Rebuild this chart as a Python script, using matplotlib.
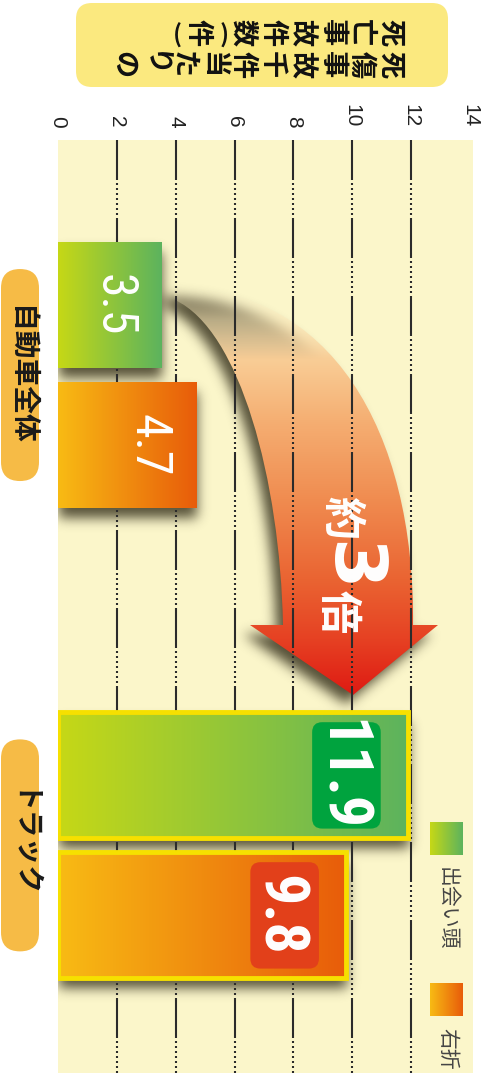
import os
import numpy as np
import matplotlib
matplotlib.use("Agg")
import matplotlib.pyplot as plt
from matplotlib import font_manager
from matplotlib.font_manager import FontProperties
from matplotlib.colors import to_rgba
from matplotlib.patches import FancyBboxPatch, PathPatch
from matplotlib.path import Path
from matplotlib.textpath import TextPath

plt.rcParams["lines.scale_dashes"] = False

# --- data ---
categories = ["自動車全体", "トラック"]
series_names = ["出会い頭", "右折"]
deaigashira = [3.5, 11.9]   # 出会い頭
usetsu = [4.7, 9.8]         # 右折
ticks = [0, 2, 4, 6, 8, 10, 12, 14]
title_cols = ["死傷事故千件当たりの", "死亡事故件数(件)"]

JP = "Noto Sans CJK JP"

# narrow digits for the value labels, if a condensed face is installed
font_files = {os.path.basename(f.fname): f.fname for f in font_manager.fontManager.ttflist}


def find_font(names, keywords):
    for n in names:
        if n in font_files:
            return FontProperties(fname=font_files[n])
    for base, path in sorted(font_files.items()):
        if any(k in base for k in keywords):
            return FontProperties(fname=path)
    return None


num_reg = find_font(["RobotoCondensed-Regular.ttf", "NotoSans-Condensed.ttf",
                     "NotoSans-CondensedMedium.ttf", "DejaVuSansCondensed.ttf",
                     "LiberationSansNarrow-Regular.ttf"],
                    ["Condensed.", "CondensedRegular", "Narrow-Regular"]) \
    or FontProperties(family="Liberation Sans")
num_bold = find_font(["RobotoCondensed-Bold.ttf", "NotoSans-CondensedExtraBold.ttf",
                      "NotoSans-CondensedBold.ttf", "DejaVuSansCondensed-Bold.ttf",
                      "LiberationSansNarrow-Bold.ttf"],
                     ["CondensedBold", "Condensed-Bold", "Narrow-Bold"]) \
    or FontProperties(family="Liberation Sans", weight="bold")


def fit_size(strings, fp, lengths_px, height_px):
    # largest point size whose ink fits the given pixel length/height
    size = 1e9
    for s, L in zip(strings, lengths_px):
        e = TextPath((0, 0), s, size=10, prop=fp).get_extents()
        size = min(size, L * 0.72 / (e.width / 10), height_px * 0.72 / (e.height / 10))
    return size


W, H = 493, 1073
fig = plt.figure(figsize=(W / 100, H / 100), dpi=100)
fig.patch.set_facecolor("white")

# main plot area (value axis runs left -> right, categories top -> bottom)
ax = fig.add_axes([58 / W, 0, 415 / W, 933 / H])
XLIM = (0, 14.1)
YLIM = (4.986, -1.679)
ax.set_xlim(*XLIM)
ax.set_ylim(*YLIM)
ax.set_facecolor("#fbf6ca")
for s in ax.spines.values():
    s.set_visible(False)
ax.xaxis.tick_top()
ax.set_xticks(ticks)
ax.set_xticklabels([str(t) for t in ticks], rotation=-90, fontsize=15,
                   family="Liberation Sans", color="#222222")
ax.tick_params(axis="x", length=0, pad=9)
ax.set_yticks([])

group_pos = np.array([0.0, 3.36])
bar_h = 0.9
green = ("#c6d816", "#5cb35e")
orange = ("#f8bb14", "#e85c0a")


def hgrad(c0, c1, n=256):
    a = np.array(to_rgba(c0))
    b = np.array(to_rgba(c1))
    t = np.linspace(0, 1, n)[:, None]
    return (a + (b - a) * t)[None, :, :]


bars_a = ax.barh(group_pos - 0.5, deaigashira, height=bar_h, color="none", zorder=5)
bars_b = ax.barh(group_pos + 0.5, usetsu, height=bar_h, color="none", zorder=5)

for bars, cols in ((bars_a, green), (bars_b, orange)):
    for r in bars:
        x0, y0, w, h = r.get_x(), r.get_y(), r.get_width(), r.get_height()
        ax.imshow(hgrad(*cols), extent=(x0, x0 + w, y0 + h, y0), aspect="auto",
                  zorder=4, interpolation="bilinear")
# truck bars get a yellow frame
for r in (bars_a[1], bars_b[1]):
    r.set_edgecolor("#f6e000")
    r.set_linewidth(3.5)

# dash-dot grid lines
dash_px = [40, 3] + [2, 3] * 7
dash = tuple(v * 0.72 for v in dash_px)
ax.vlines(ticks[1:-1], YLIM[1], YLIM[0], colors="#2b2b2b", linewidth=1.5,
          linestyles=[(0, dash)], zorder=3)

# curved arrow from the car group to the truck group (outline in figure pixels)
inv = ax.transData.inverted()


def to_data(px, py):
    return inv.transform((px, H - py))


arrow_pts = [(172, 288), (330, 286), (415, 430), (413, 625), (438, 625), (353, 695),
             (250, 625), (283, 625), (280, 480), (240, 330), (175, 300), (172, 288)]
arrow_codes = [Path.MOVETO, Path.CURVE4, Path.CURVE4, Path.CURVE4, Path.LINETO,
               Path.LINETO, Path.LINETO, Path.LINETO, Path.CURVE4, Path.CURVE4,
               Path.CURVE4, Path.CLOSEPOLY]
arrow_path = Path([to_data(*p) for p in arrow_pts], arrow_codes)
arrow = PathPatch(arrow_path, fc="none", ec="none", zorder=2.5)
ax.add_patch(arrow)

stops = [(285, (252, 243, 205, 0.0)), (320, (251, 232, 185, 0.6)),
         (360, (249, 205, 150, 1)), (420, (245, 175, 115, 1)),
         (500, (240, 140, 80, 1)), (580, (234, 100, 50, 1)),
         (640, (230, 65, 35, 1)), (697, (222, 25, 18, 1))]
sy = np.array([s[0] for s in stops], float)
sc = np.array([s[1] for s in stops], float)
sc[:, :3] /= 255
rows = np.linspace(285, 697, 300)
grad = np.stack([np.interp(rows, sy, sc[:, k]) for k in range(4)], axis=1)[:, None, :]
xl, yt = to_data(165, 285)
xr, yb = to_data(445, 697)
im = ax.imshow(grad, extent=(xl, xr, yb, yt), origin="upper", aspect="auto",
               zorder=2.5, interpolation="bilinear")
im.set_clip_path(arrow)

# soft drop shadows for bars and arrow
aw, ah = 415, 933
xs = 58 + np.arange(aw) + 0.5
ys = 933 - (np.arange(ah) + 0.5)
X, Y = np.meshgrid(xs, ys)
pts = np.column_stack([X.ravel(), Y.ravel()])
mask = np.zeros(len(pts))
shapes = [(r.get_path().transformed(r.get_transform()), 1, 10) for r in list(bars_a) + list(bars_b)]
shapes.append((arrow_path.transformed(ax.transData), -7, 9))
for p, dx, dy in shapes:
    mask = np.maximum(mask, p.contains_points(pts - [dx, -dy]).astype(float))
mask = mask.reshape(ah, aw)


def blur(a, sigma):
    r = int(3 * sigma)
    k = np.exp(-0.5 * (np.arange(-r, r + 1) / sigma) ** 2)
    k /= k.sum()
    a = np.apply_along_axis(lambda m: np.convolve(m, k, mode="same"), 0, a)
    return np.apply_along_axis(lambda m: np.convolve(m, k, mode="same"), 1, a)


soft = blur(mask, 6)
shadow = np.zeros((ah, aw, 4))
shadow[..., :3] = np.array([45, 40, 20]) / 255
shadow[..., 3] = 0.8 * soft
ax.imshow(shadow, extent=(XLIM[0], XLIM[1], YLIM[0], YLIM[1]), origin="upper",
          aspect="auto", zorder=2, interpolation="bilinear")

# value labels: plain white on the car bars, boxed on the truck bars
car_labels = [f"{deaigashira[0]:.1f}", f"{usetsu[0]:.1f}"]
truck_labels = [f"{deaigashira[1]:.1f}", f"{usetsu[1]:.1f}"]
car_size = fit_size(car_labels, num_reg, [58, 62], 41)
truck_size = fit_size(truck_labels, num_bold, [104, 88], 55)

for i, (bars, vals) in enumerate(((bars_a, deaigashira), (bars_b, usetsu))):
    for j, (r, v) in enumerate(zip(bars, vals)):
        yc = r.get_y() + r.get_height() / 2
        if j == 0:
            ax.text(v - 1.45, yc, f"{v:.1f}", rotation=-90, rotation_mode="anchor",
                    ha="center", va="center_baseline", color="white",
                    fontproperties=num_reg, fontsize=car_size, zorder=6)
        else:
            cx = v - 2.1
            bw, bh = 2.33, 0.76
            box = FancyBboxPatch((cx - bw / 2, yc - bh / 2), bw, bh,
                                 boxstyle=f"round,pad=0,rounding_size={10 / 29.45}",
                                 mutation_aspect=29.45 / 140,
                                 fc=("#00a33e" if i == 0 else "#e2401a"), ec="none", zorder=6)
            ax.add_patch(box)
            ax.text(cx, yc, f"{v:.1f}", rotation=-90, rotation_mode="anchor",
                    ha="center", va="center_baseline", color="white",
                    fontproperties=num_bold, fontsize=truck_size, zorder=7)

ax.set_xlim(*XLIM)
ax.set_ylim(*YLIM)

# overlay in figure pixels for title, category pills, legend and arrow caption
ov = fig.add_axes([0, 0, 1, 1], zorder=5)
ov.set_xlim(0, W)
ov.set_ylim(H, 0)
ov.axis("off")
ov.patch.set_alpha(0)

ov.add_patch(FancyBboxPatch((76, 3), 372, 84, boxstyle="round,pad=0,rounding_size=16",
                            fc="#fbe97f", ec="none"))
for text, y in zip(title_cols, (65, 33)):
    x = 391
    prev = None
    for ch in text:
        paren = ch in "()"
        adv = 15 if paren else 29.7
        if prev is not None:
            x -= (prev + adv) / 2
        ov.text(x, y, ch, rotation=(180 if paren else -90), ha="center", va="center",
                fontsize=(17 if paren else 19.5), fontweight="bold", family=JP,
                color="#111111")
        prev = adv

for g, cat in zip(group_pos, categories):
    yc = H - ax.transData.transform((0, g))[1]
    ov.add_patch(FancyBboxPatch((1, yc - 106), 38, 212,
                                boxstyle="round,pad=0,rounding_size=19",
                                fc="#f6bb46", ec="none"))
    ov.text(20, yc, cat, rotation=-90, ha="center", va="center", fontsize=20,
            fontweight="bold", family=JP, color="#1a1a1a")

# legend
for cols, name, sq_top, ty in ((green, series_names[0], 822, 909),
                               (orange, series_names[1], 983, 1049)):
    ov.imshow(hgrad(*cols), extent=(430, 463, sq_top + 33, sq_top), aspect="auto",
              interpolation="bilinear")
    ov.text(447, ty, name, rotation=-90, ha="center", va="center", fontsize=15,
            family=JP, color="#444444")

# caption on the arrow
ov.text(341, 518, "約", rotation=-90, ha="center", va="center", fontsize=31,
        fontweight="bold", family=JP, color="white")
ov.text(350, 566, "3", rotation=-90, ha="center", va="center", fontsize=52,
        fontweight="bold", family="DejaVu Sans", color="white")
ov.text(338, 612, "倍", rotation=-90, ha="center", va="center", fontsize=31,
        fontweight="bold", family=JP, color="white")

ov.set_xlim(0, W)
ov.set_ylim(H, 0)

fig.savefig("out.png", dpi=100)
